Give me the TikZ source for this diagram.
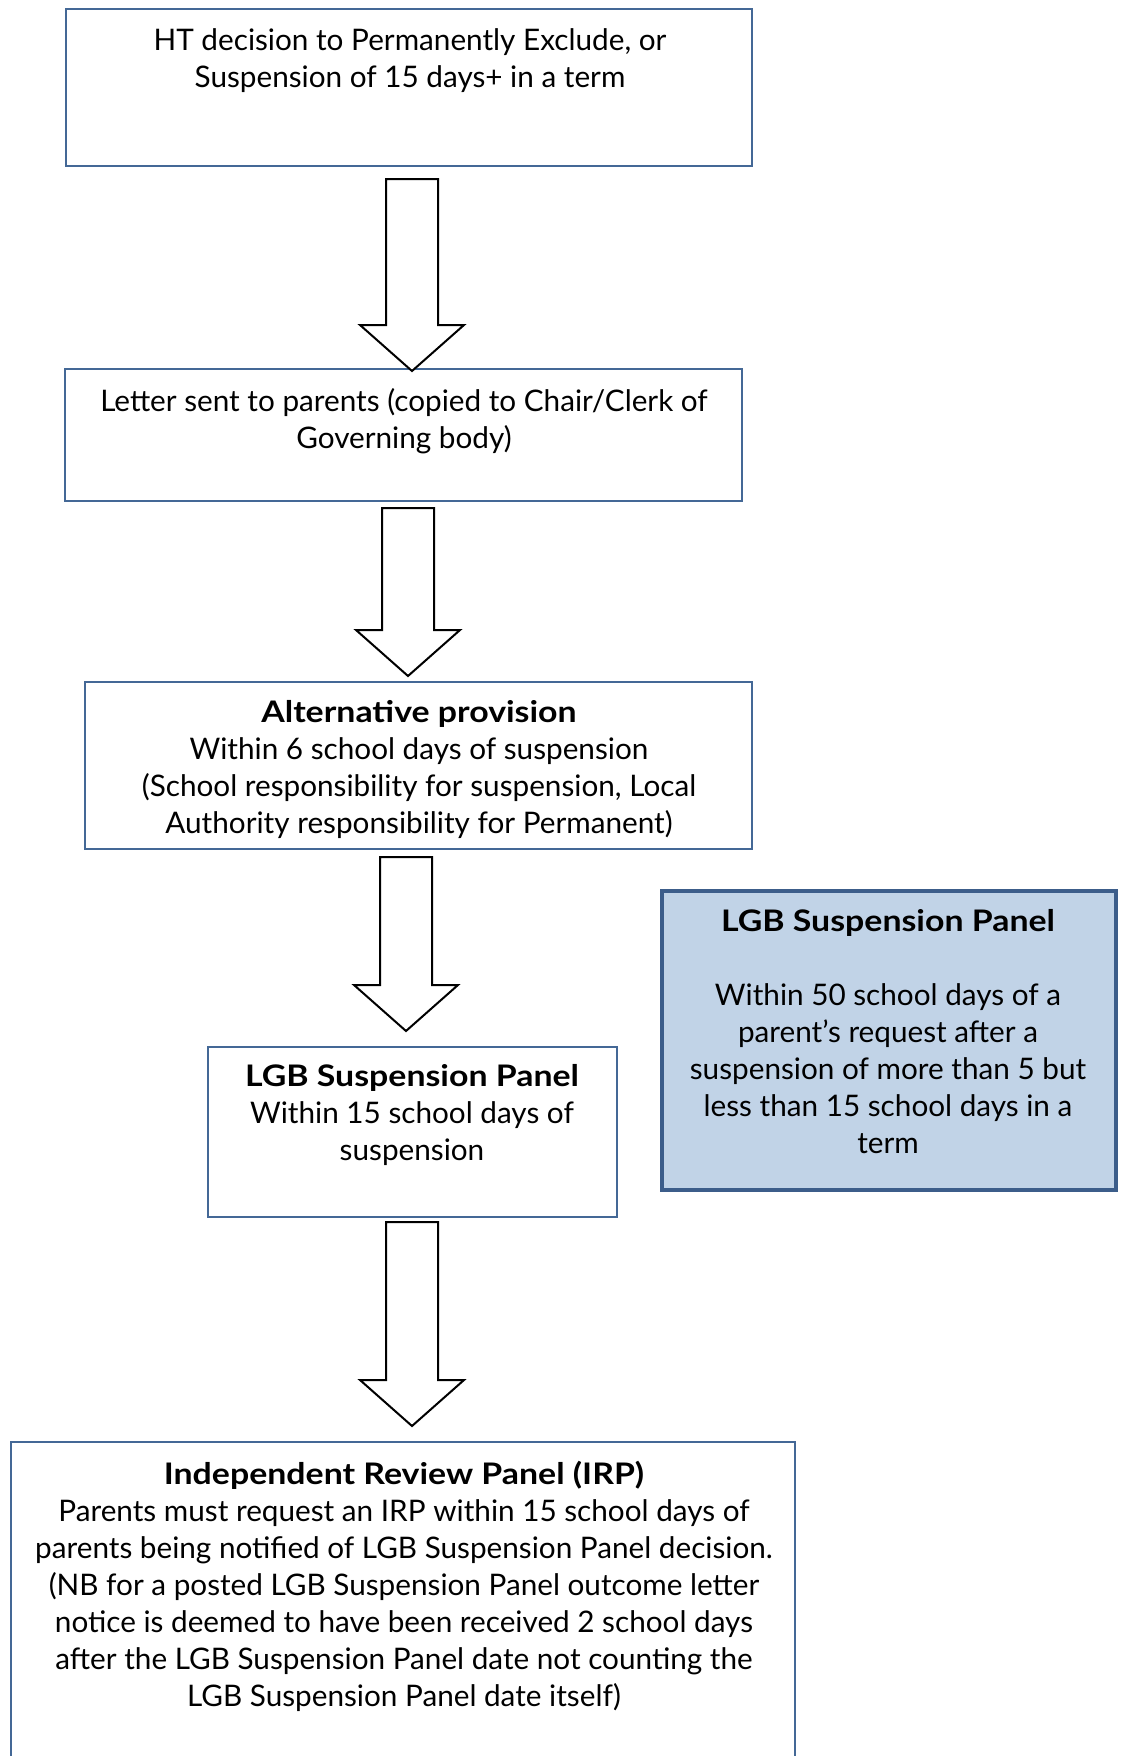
\documentclass[tikz,border=0pt]{standalone}
\usepackage{fontspec}
\usepackage{graphicx}
\setmainfont{Lato}
\definecolor{boxline}{RGB}{68,104,150}
\definecolor{sideline}{RGB}{60,93,138}
\definecolor{sidefill}{RGB}{193,211,231}
\newcommand{\blkarrow}[2]{%
  \draw[arrowline] let \p1=(#1), \p2=(#2) in
    (\x1-26,\y1) -- (\x1+26,\y1) -- (\x1+26,\y2+46) -- (\x1+52,\y2+46)
    -- (\x2,\y2) -- (\x1-52,\y2+46) -- (\x1-26,\y2+46) -- cycle;}
\newcommand{\ttl}[1]{\scalebox{1.14}[1]{\textbf{#1}}}
\usetikzlibrary{calc}
\begin{document}
\begin{tikzpicture}[x=1pt,y=-1pt,
  flowbox/.style={draw=boxline,line width=2pt,fill=white},
  sidebox/.style={draw=sideline,line width=4pt,fill=sidefill},
  txt/.style={align=center,font=\fontsize{29.7}{37}\selectfont,inner sep=0pt,anchor=north},
  arrowline/.style={draw=black,line width=2pt,fill=white,line join=miter}]
\useasboundingbox (0,0) rectangle (1125,1756);
\fill[white] (0,0) rectangle (1125,1756);
% boxes
\draw[flowbox] (66,9) rectangle (752,166) coordinate[pos=0.5] (b1);
\draw[flowbox] (65,369) rectangle (742,501) coordinate[pos=0.5] (b2);
\draw[flowbox] (85,682) rectangle (752,849) coordinate[pos=0.5] (b3);
\draw[flowbox] (208,1047) rectangle (617,1217) coordinate[pos=0.5] (b4);
\draw[flowbox] (11,1442) rectangle (795,1770) coordinate[pos=0.5] (b5);
\draw[sidebox] (662,891) rectangle (1116,1190) coordinate[pos=0.5] (b6);
% texts
\node[txt] (t1) at (410,28) {HT decision to Permanently Exclude, or\\Suspension of 15 days+ in a term};
\node[txt] (t2) at (404,388) {Letter sent to parents (copied to Chair/Clerk of\\Governing body)};
\node[txt] (t3) at (419,700) {\ttl{Alternative provision}\\Within 6 school days of suspension\\(School responsibility for suspension, Local\\Authority responsibility for Permanent)};
\node[txt] (t4) at (412,1064) {\ttl{LGB Suspension Panel}\\Within 15 school days of\\suspension};
\node[txt] (t6) at (888,909) {\ttl{LGB Suspension Panel}\\[37pt]Within 50 school days of a\\parent’s request after a\\suspension of more than 5 but\\less than 15 school days in a\\term};
\node[txt] (t5) at (404,1461) {\ttl{Independent Review Panel (IRP)}\\Parents must request an IRP within 15 school days of\\parents being notified of LGB Suspension Panel decision.\\(NB for a posted LGB Suspension Panel outcome letter\\notice is deemed to have been received 2 school days\\after the LGB Suspension Panel date not counting the\\LGB Suspension Panel date itself)};
% arrows
\coordinate (a1s) at (412,179);  \coordinate (a1e) at (412,371);
\coordinate (a2s) at (408,508);  \coordinate (a2e) at (408,676);
\coordinate (a3s) at (406,857);  \coordinate (a3e) at (406,1031);
\coordinate (a4s) at (412,1222); \coordinate (a4e) at (412,1426);
\blkarrow{a1s}{a1e}
\blkarrow{a2s}{a2e}
\blkarrow{a3s}{a3e}
\blkarrow{a4s}{a4e}
\end{tikzpicture}
\end{document}
